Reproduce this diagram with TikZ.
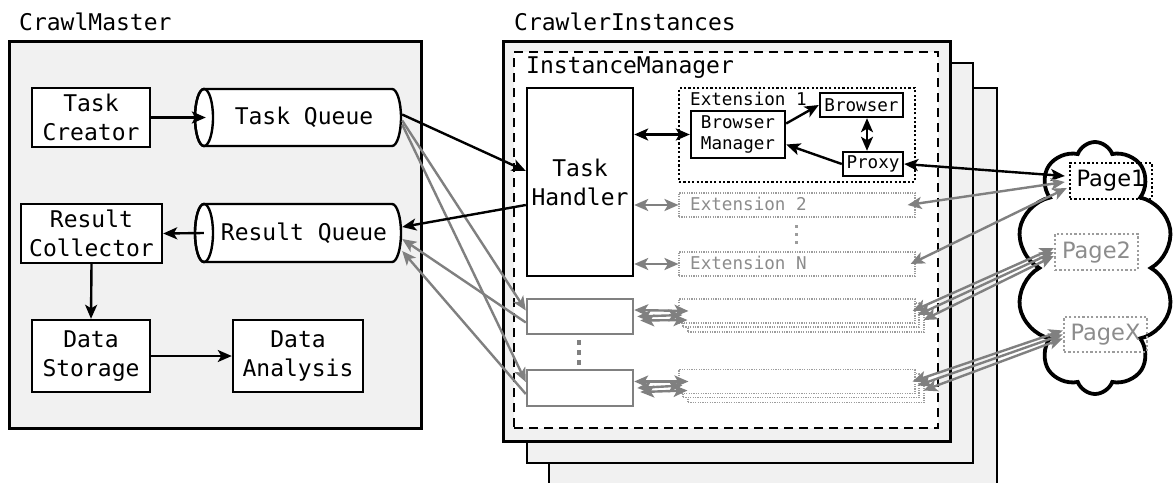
\documentclass[tikz,border=0pt]{standalone}
\usepackage{fontspec}
\newfontfamily\monof{DejaVu Sans Mono}
\newfontfamily\sansf{DejaVu Sans}
\usetikzlibrary{arrows.meta,shapes.symbols}
\definecolor{panel}{HTML}{F1F1F1}
\definecolor{gline}{HTML}{808080}
\definecolor{gtext}{HTML}{8C8C8C}
\definecolor{gdot}{HTML}{9C9C9C}
\tikzset{
  big/.style={font={\monof\fontsize{23}{29}\selectfont}},
  small/.style={font={\monof\fontsize{17.6}{21}\selectfont}},
  pagefont/.style={font={\sansf\fontsize{22.5}{26}\selectfont}},
  box/.style={draw, line width=2.4pt, fill=white, align=center, inner sep=0pt},
  gbox/.style={draw=gline, line width=2.4pt, fill=white, inner sep=0pt},
  extbox/.style={draw=gdot, line width=1.1pt, dash pattern=on 1.2pt off 1.2pt, fill=white, inner sep=0pt, minimum width=236pt, minimum height=24pt},
  pagebox/.style={line width=2.4pt, dash pattern=on 2.2pt off 2.2pt, inner sep=0pt, minimum height=36pt, minimum width=83pt, pagefont},
  tip/.tip={Stealth[length=14pt,width=12pt,inset=3.5pt]},
  arr/.style={line width=2.4pt, -tip},
  darr/.style={line width=2.4pt, tip-tip},
  garr/.style={arr, draw=gline, color=gline},
  gdarr/.style={darr, draw=gline, color=gline},
  backpanel/.style={fill=panel, draw, line width=1.5pt},
  mainpanel/.style={fill=panel, draw, line width=3pt},
  cyl/.style={draw, line width=2.4pt, fill=white},
}
\begin{document}
\begin{tikzpicture}[x=1pt,y=-1pt]
\useasboundingbox (0,0) rectangle (1175,482);
\fill[white] (0,0) rectangle (1175,482);

% ---------------- CrawlMaster ----------------
\node[big, anchor=base west, inner sep=0pt] (lcm) at (19,30) {CrawlMaster};
\node[mainpanel, minimum width=412pt, minimum height=387pt, inner sep=0pt] (cm) at (215,234.5) {};

% Task Queue cylinder
\draw[cyl] (204,89) -- (392,89) arc[start angle=90, end angle=-90, x radius=9pt, y radius=28.5pt]
  -- (204,146) arc[start angle=270, end angle=90, x radius=9pt, y radius=28.5pt] -- cycle;
\draw[line width=2.4pt] (204,117.5) ellipse [x radius=9pt, y radius=28.5pt];
\node[big, inner sep=0pt, minimum width=196pt, minimum height=57pt] (tq) at (304,117.5) {Task Queue};

% Result Queue cylinder
\draw[cyl] (204,204) -- (392,204) arc[start angle=90, end angle=-90, x radius=9pt, y radius=29pt]
  -- (204,262) arc[start angle=270, end angle=90, x radius=9pt, y radius=29pt] -- cycle;
\draw[line width=2.4pt] (204,233) ellipse [x radius=9pt, y radius=29pt];
\node[big, inner sep=0pt, minimum width=196pt, minimum height=58pt] (rq) at (304,233) {Result Queue};

\node[box, big, minimum width=118pt, minimum height=59pt] (tc) at (91,117.5) {Task\\Creator};
\node[box, big, minimum width=141pt, minimum height=59pt] (rc) at (91.5,233.5) {Result\\Collector};
\node[box, big, minimum width=118pt, minimum height=72pt] (ds) at (91,356) {Data\\Storage};
\node[box, big, minimum width=130pt, minimum height=72pt] (da) at (298,356) {Data\\Analysis};

% ---------------- CrawlerInstances ----------------
\node[big, anchor=base west, inner sep=0pt] (lci) at (514,30) {CrawlerInstances};
\fill[panel] (549,88) rectangle (997,486);
\draw[line width=1.5pt] (549,486) -- (549,88) -- (997,88) -- (997,486);
\node[backpanel, minimum width=446pt, minimum height=400pt, inner sep=0pt] (bp1) at (750,263) {};
\node[mainpanel, minimum width=447pt, minimum height=400pt, inner sep=0pt] (ci) at (726.5,241) {};
\node[draw, fill=white, line width=2.6pt, dash pattern=on 9pt off 6pt, minimum width=424pt, minimum height=376pt, inner sep=0pt] (im) at (726,240) {};
\node[big, anchor=base west, inner sep=0pt] (lim) at (526,73) {InstanceManager};

\node[box, big, minimum width=106pt, minimum height=188pt] (th) at (580,182) {Task\\Handler};

% Extension 1
\node[draw, line width=2.4pt, dash pattern=on 2.2pt off 2.2pt, fill=white, minimum width=236pt, minimum height=94pt, inner sep=0pt] (ext1) at (797,135) {};
\node[small, anchor=base west, inner sep=0pt] (lext1) at (690,105) {Extension 1};
\node[box, small, minimum width=94pt, minimum height=47pt] (bm) at (738,134.5) {Browser\\Manager};
\node[box, small, minimum width=83pt, minimum height=24pt] (br) at (861.5,105) {Browser};
\node[box, small, minimum width=60pt, minimum height=24pt] (px) at (873,164) {Proxy};

% Extension 2 .. N
\node[extbox] (ext2) at (797,205) {};
\node[small, text=gtext, anchor=base west, inner sep=0pt] (lext2) at (690,210) {Extension 2};
\node[extbox] (extN) at (797,264) {};
\node[small, text=gtext, anchor=base west, inner sep=0pt] (lextN) at (690,269) {Extension N};
\draw[gdot, line width=3pt, dash pattern=on 3pt off 5pt] (796,225) -- (796,245);

% other instances (gray)
\node[gbox, minimum width=106pt, minimum height=35pt] (g2) at (580,316.5) {};
\node[gbox, minimum width=106pt, minimum height=36pt] (g3) at (580,388) {};
\draw[gline, line width=4pt, dash pattern=on 5pt off 5pt] (579,340) -- (579,366);

\node[extbox] (s1c) at (806,320) {};
\node[extbox] (s1b) at (801,315) {};
\node[extbox] (s1a) at (797,311) {};
\node[extbox] (s2c) at (806,390.5) {};
\node[extbox] (s2b) at (801,385.5) {};
\node[extbox] (s2a) at (797,381.5) {};

% ---------------- Cloud with pages ----------------
\node[cloud, draw, line width=3.8pt, fill=white, cloud puffs=10, cloud puff arc=140, aspect=0.6, minimum width=158pt, minimum height=252pt, inner sep=0pt] (cl) at (1095,268) {};
\node[pagebox, draw=black, minimum width=82pt] (p1) at (1111,181) {Page1};
\node[pagebox, draw=gdot, text=gtext] (p2) at (1096.5,252) {Page2};
\node[pagebox, draw=gdot, text=gtext, minimum height=35pt] (px2) at (1105.5,334.5) {PageX};

% ---------------- Connectors ----------------
\draw[arr] (tc.east) -- (tq.west);
\draw[arr] ([xshift=-2pt]rq.west) -- (rc.east);
\draw[arr] (rc.south) -- (ds.north);
\draw[arr] (ds.east) -- (da.west);

\draw[garr] ([yshift=-3pt]tq.east) -- ([yshift=6pt]g2.west);
\draw[garr] ([yshift=-7pt]tq.east) -- ([yshift=6pt]g3.west);
\draw[garr] ([yshift=-6pt]g2.west) -- ([yshift=-6pt]rq.east);
\draw[garr] ([yshift=-6pt]g3.west) -- ([yshift=-18pt]rq.east);
\draw[arr] ([yshift=3pt]tq.east) -- ([yshift=11pt]th.west);
\draw[arr] ([yshift=-23pt]th.west) -- ([yshift=6pt]rq.east);

\draw[darr] (th.east |- bm.west) -- (bm.west);
\draw[arr] ([yshift=11pt]bm.east) -- (br.west);
\draw[darr] ([xshift=5.5pt]br.south) -- ([xshift=-6pt]px.north);
\draw[arr] (px.west) -- ([yshift=-10pt]bm.east);
\draw[darr] (px.east) -- ([xshift=-4pt,yshift=5pt]p1.west);

\draw[gdarr] (th.east |- ext2.west) -- (ext2.west);
\draw[gdarr] (th.east |- extN.west) -- (extN.west);

\draw[gdarr] ([yshift=6.5pt]g2.east) -- ([xshift=10pt]s1a.west);
\draw[gdarr] ([xshift=3pt]g2.east) -- (s1b.west);
\draw[gdarr] ([xshift=6pt,yshift=-4pt]g2.east) -- (s1c.west);
\draw[gdarr] ([yshift=6.5pt]g3.east) -- ([xshift=10pt]s2a.west);
\draw[gdarr] ([xshift=3pt]g3.east) -- (s2b.west);
\draw[gdarr] ([xshift=6pt,yshift=-4pt]g3.east) -- (s2c.west);

\draw[gdarr] ([xshift=-8pt]ext2.east) -- ([xshift=-4pt,yshift=-1pt]p1.west);
\draw[gdarr] ([xshift=-5pt]extN.east) -- ([xshift=-2pt,yshift=-7pt]p1.west);

\draw[gdarr] ([xshift=-3pt]s1a.east) -- ([yshift=4pt]p2.west);
\draw[gdarr] ([xshift=-2pt]s1b.east) -- ([yshift=0pt]p2.west);
\draw[gdarr] ([xshift=-1pt]s1c.east) -- ([yshift=-4pt]p2.west);
\draw[gdarr] ([xshift=-3pt]s2a.east) -- ([yshift=4pt]px2.west);
\draw[gdarr] ([xshift=-2pt]s2b.east) -- ([yshift=0pt]px2.west);
\draw[gdarr] ([xshift=-1pt]s2c.east) -- ([yshift=-4pt]px2.west);
\end{tikzpicture}
\end{document}
